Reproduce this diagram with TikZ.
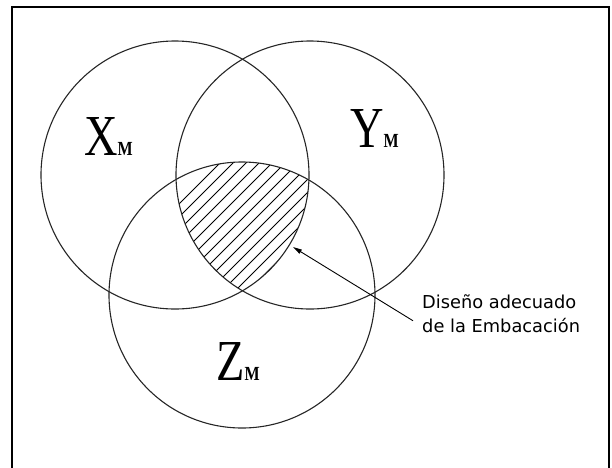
\documentclass[tikz,border=0pt]{standalone}
\usepackage{fontspec}
\setmainfont{Liberation Serif}
\newfontfamily\notefont{DejaVu Sans}
\usepackage{graphicx}
\usetikzlibrary{arrows.meta,calc}

\newcommand{\setname}[1]{\scalebox{0.8}[1]{\fontsize{58}{58}\selectfont #1\fontsize{20}{20}\selectfont\bfseries M}}

\begin{document}
\begin{tikzpicture}[x=1pt, y=-1pt,
    ring/.style={draw=black!85, line width=1.1pt},
    hatch/.style={line width=0.8pt},
    setlabel/.style={anchor=base west, inner sep=0pt},
    note/.style={font=\notefont\fontsize{17.8}{24}\selectfont, align=left,
                 anchor=north west, inner sep=0pt},
  ]
  \useasboundingbox (0,0) rectangle (612,467);
  % frame, open at the bottom
  \draw[line width=2.5pt] (12,475) -- (12,7) -- (609,7) -- (609,475);

  \coordinate (cx) at (175,175);
  \coordinate (cy) at (310,175);
  \coordinate (cz) at (242,295);

  % hatched common part
  \begin{scope}
    \clip (cx) circle[radius=134pt];
    \clip (cy) circle[radius=134pt];
    \clip (cz) circle[radius=133pt];
    \foreach \c in {383,396,...,552}
      \draw[hatch] (\c-320,320) -- (\c-150,150);
  \end{scope}

  \draw[ring] (cx) circle[radius=134pt];
  \draw[ring] (cy) circle[radius=134pt];
  \draw[ring] (cz) circle[radius=133pt];

  \node[setlabel] (lx) at (84,155)  {\setname{X}};
  \node[setlabel] (ly) at (350,147) {\setname{Y}};
  \node[setlabel] (lz) at (216,380) {\setname{Z}};

  \node[note] (note) at (422,294.5) {Diseño adecuado\\de la Embacación};
  \coordinate (tip) at (293,247);
  \draw[-{Triangle[length=9pt,width=4.5pt]}, line width=0.9pt]
    ($(note.west)+(-9,7)$) -- (tip);
\end{tikzpicture}
\end{document}
